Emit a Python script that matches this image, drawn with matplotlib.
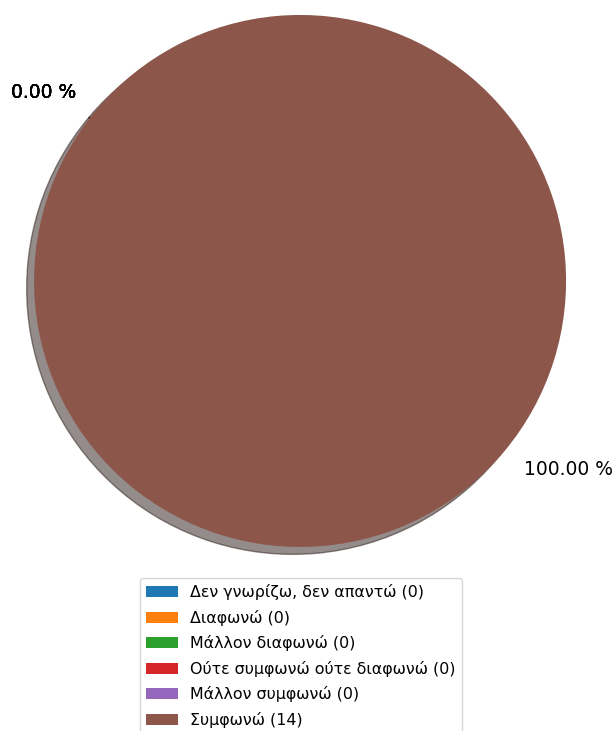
import matplotlib
matplotlib.use("Agg")
import matplotlib.pyplot as plt

categories = ["Δεν γνωρίζω, δεν απαντώ", "Διαφωνώ", "Μάλλον διαφωνώ",
              "Ούτε συμφωνώ ούτε διαφωνώ", "Μάλλον συμφωνώ", "Συμφωνώ"]
counts = [0, 0, 0, 0, 0, 14]
colors = ["#1f77b4", "#ff7f0e", "#2ca02c", "#d62728", "#9467bd", "#8c564b"]

total = sum(counts)
pct_labels = [f"{100 * c / total:.2f} %" for c in counts]
legend_labels = [f"{cat} ({c})" for cat, c in zip(categories, counts)]

fig = plt.figure(figsize=(6.13, 7.31), dpi=100)
ax = fig.add_axes([-0.053, 0.1608, 1.085, 0.9097])
wedges, texts = ax.pie(counts, labels=pct_labels, colors=colors, shadow=True,
                       startangle=140, textprops={"fontsize": 13.5})
ax.set_aspect("equal")
fig.legend(wedges, legend_labels, loc="upper center",
           bbox_to_anchor=(0.491, 0.2093), borderaxespad=0, fontsize=11.4,
           labelspacing=0.6)
fig.savefig("out.png", dpi=100)
